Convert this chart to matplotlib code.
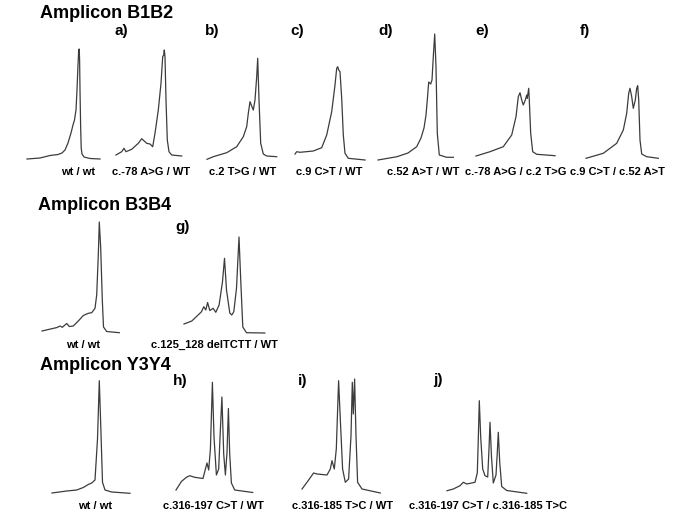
import matplotlib
matplotlib.use("Agg")
import matplotlib.pyplot as plt

# melt-curve traces (x: temperature steps, y: signal)
# Amplicon B1B2
b1b2_wt_x = [0, 13, 23, 31, 35, 38, 41, 44, 46, 47.5, 49, 50, 51, 51.7, 52.2, 52.6, 53, 53.6, 54.2, 55, 57, 63, 73]
b1b2_wt_y = [1, 2, 4.5, 5.5, 7, 10, 17, 27, 35, 40, 50, 70, 95, 110, 111, 100, 70, 35, 12, 6, 3, 1.5, 1]
b1b2_a_x = [0, 5.7, 8, 10, 15.7, 22.3, 25.7, 30.7, 34, 36.7, 39, 42.3, 45, 46.7, 47.7, 48.3, 49, 50, 51.3, 53, 55.7, 65.7]
b1b2_a_y = [5, 8.3, 11.7, 8.3, 10.7, 16.7, 21.3, 16.7, 16, 13.3, 26.7, 50, 76.7, 103.3, 105, 110, 103.3, 60, 20, 8.3, 5, 4]
b1b2_b_x = [0, 6.3, 19.7, 29.7, 36.3, 39.7, 41.3, 43, 44.7, 46.3, 48, 49.7, 50.7, 52, 53.7, 56.3, 59.7, 69.7]
b1b2_b_y = [0.7, 3.3, 7.3, 13.3, 23.3, 33.3, 46.7, 58.3, 54, 50, 60, 83.3, 101.7, 60, 16.7, 6, 4, 3.3]
b1b2_c_x = [0, 1.7, 5, 18.3, 26.7, 31.7, 36.7, 40, 41.7, 42.7, 43.7, 45, 46.7, 48.3, 50, 53.3, 70]
b1b2_c_y = [6, 8.3, 7.7, 9, 12.3, 25, 48.3, 75, 91.7, 93.3, 90, 88.3, 61.7, 25, 6.7, 1.7, 0]
b1b2_d_x = [0, 19, 30, 38.7, 43, 46, 48, 49.3, 50.7, 52.7, 54, 55.3, 56.7, 58, 59.3, 61.3, 68.7, 75.3]
b1b2_d_y = [0, 3.3, 7, 13.3, 22, 32, 45, 60, 78, 76, 80, 103.3, 126, 93.3, 26.7, 5, 2.7, 2.7]
b1b2_e_x = [0, 14, 27.3, 35.7, 40, 42.3, 44, 45.7, 47.3, 49.3, 50.7, 51.3, 52.7, 53.3, 54.7, 56.7, 60.7, 79]
b1b2_e_y = [4, 8.3, 13.3, 25, 43.3, 63.3, 67.3, 60, 55, 60, 65, 61.7, 71.7, 60, 26.7, 8.3, 5.7, 4.3]
b1b2_f_x = [0, 17.3, 30.7, 37.3, 40.7, 42.7, 44, 45.7, 47.3, 49.3, 50.7, 51.7, 52.7, 54, 55.7, 60.7, 72.3]
b1b2_f_y = [1.7, 6.7, 16.7, 30, 46.7, 66.7, 71.7, 63.3, 51.7, 60, 71.7, 74.3, 60, 20, 6, 3.3, 1.7]

# Amplicon B3B4
b3b4_wt_x = [0, 15, 18, 20.3, 24.7, 27.3, 31.3, 36.3, 41.3, 46.3, 49.7, 53, 54.7, 56.3, 57.3, 58.7, 60.3, 61.5, 64.7, 77.3]
b3b4_wt_y = [2, 5.5, 7, 5.7, 9.5, 6.5, 7, 12, 17.5, 19.7, 20.3, 24.7, 38, 78, 111, 85, 33, 6, 1.5, 0.3]
b3b4_g_x = [0, 7.8, 14.1, 17.5, 19.8, 21.8, 23.6, 25.8, 29.1, 31.8, 35.1, 38.5, 40.5, 42.5, 45.8, 47.8, 49.8, 52.5, 55, 56.8, 58.8, 62.5, 80.8]
b3b4_g_y = [9, 12, 18, 21.3, 26.3, 23, 30.5, 22.5, 24.7, 20.7, 28, 51.3, 74.7, 43, 20, 18, 21.3, 44.7, 96, 51.3, 6, 0.3, 0]

# Amplicon Y3Y4
y3y4_wt_x = [0, 14.7, 24.7, 31.3, 36.3, 39.7, 43, 45.5, 47.3, 48.7, 50.5, 53, 59.7, 78]
y3y4_wt_y = [1, 3, 4, 6.5, 9.5, 11, 14, 55, 113.3, 70, 11.7, 4, 2, 0.7]
y3y4_h_x = [0, 5.4, 10.4, 13.7, 18.7, 27, 29.4, 31, 32.7, 34.4, 36.4, 38, 40.4, 42.7, 44.4, 45.9, 47.7, 49.4, 51, 52.4, 53.7, 55.4, 58.7, 76.7]
y3y4_h_y = [4, 12.5, 16.7, 18.3, 16.7, 15.5, 25, 31, 24, 45, 111.7, 57, 19, 25, 65, 97, 40, 19, 41.7, 85.5, 40, 11, 4, 1.5]
y3y4_i_x = [0, 5, 11.6, 15, 25, 28.3, 30, 32.3, 34.3, 36.6, 38.3, 40.6, 43.3, 46.6, 49, 50.3, 51.3, 52.6, 54, 55.6, 60, 78.3]
y3y4_i_y = [5, 11.7, 21, 20, 19, 25, 33.3, 25, 45, 113.3, 75, 25, 11.7, 15, 58.3, 111.7, 80, 115, 58.3, 11.7, 5, 1]
y3y4_j_x = [0, 6.3, 13, 16.3, 19.7, 28, 30.3, 31.3, 32.3, 33.7, 35.7, 38, 40.7, 42, 43, 44.5, 46.3, 49, 50.3, 51.3, 52.7, 54.7, 59.7, 79.7]
y3y4_j_y = [3.3, 5, 8.3, 11.7, 10, 11.7, 21, 55, 93.3, 57, 25, 18.3, 17, 45, 71.7, 37, 11, 19, 41.7, 61.7, 32, 7.5, 3.5, 0.7]

row_titles = ["Amplicon B1B2", "Amplicon B3B4", "Amplicon Y3Y4"]
panel_letters = ["a)", "b)", "c)", "d)", "e)", "f)", "g)", "h)", "i)", "j)"]
panel_labels = ["wt / wt", "c.-78 A>G / WT", "c.2 T>G / WT", "c.9 C>T / WT",
                "c.52 A>T / WT", "c.-78 A>G / c.2 T>G", "c.9 C>T / c.52 A>T",
                "wt / wt", "c.125_128 delTCTT / WT",
                "wt / wt", "c.316-197 C>T / WT", "c.316-185 T>C / WT",
                "c.316-197 C>T / c.316-185 T>C"]

traces = [(b1b2_wt_x, b1b2_wt_y), (b1b2_a_x, b1b2_a_y), (b1b2_b_x, b1b2_b_y),
          (b1b2_c_x, b1b2_c_y), (b1b2_d_x, b1b2_d_y), (b1b2_e_x, b1b2_e_y),
          (b1b2_f_x, b1b2_f_y), (b3b4_wt_x, b3b4_wt_y), (b3b4_g_x, b3b4_g_y),
          (y3y4_wt_x, y3y4_wt_y), (y3y4_h_x, y3y4_h_y), (y3y4_i_x, y3y4_i_y),
          (y3y4_j_x, y3y4_j_y)]

# layout in pixels (origin top-left)
W, H = 685, 513
panel_origin = [(27, 160), (116, 160), (207, 160), (295, 160), (378, 160), (476, 160), (586, 160),
                (42, 333), (184, 333),
                (52, 494), (176, 494), (302, 494), (447, 494)]
label_pos = [(78, 172), (151, 172), (243, 172), (329, 172), (423, 172), (516, 172), (617, 172),
             (83, 345), (214, 345),
             (95, 506), (213, 506), (343, 506), (488, 506)]
letter_pos = [(115, 31), (205, 31), (290, 31), (378, 31), (475, 31), (580, 31),
              (175, 227), (173, 381), (298, 381), (433, 380)]
title_pos = [(40, 13), (38, 206), (40, 366)]

PW, PH = 90, 140
line_color = "#3c3c3c"

fig = plt.figure(figsize=(W / 100, H / 100), dpi=100)
fig.patch.set_facecolor("white")


def fx(x):
    return x / W


def fy(y):
    return 1 - y / H


for (xs, ys), (x0, base) in zip(traces, panel_origin):
    ax = fig.add_axes([fx(x0), fy(base), PW / W, PH / H])
    ax.plot(xs, ys, color=line_color, lw=0.9, clip_on=False)
    ax.set_xlim(0, PW)
    ax.set_ylim(0, PH)
    ax.axis("off")

font = "Liberation Sans"
for txt, (x, y) in zip(row_titles, title_pos):
    fig.text(fx(x), fy(y), txt, family=font, weight="bold", fontsize=13, ha="left", va="center")
for txt, (x, y) in zip(panel_letters, letter_pos):
    fig.text(fx(x), fy(y), txt, family=font, weight="bold", fontsize=11, ha="left", va="center")
for txt, (x, y) in zip(panel_labels, label_pos):
    fig.text(fx(x), fy(y), txt, family=font, weight="bold", fontsize=8, ha="center", va="center")

fig.savefig("out.png", dpi=100, facecolor="white")
